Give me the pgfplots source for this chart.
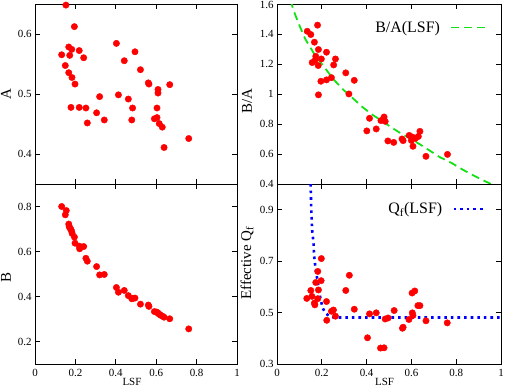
\documentclass[border=0pt]{standalone}
\usepackage{fontspec}
\setmainfont{Liberation Serif}
\usepackage{pgfplots}
\pgfplotsset{compat=1.18}

\definecolor{fitgreen}{RGB}{20,225,20}
\tikzset{greenfit/.style={draw=fitgreen, line width=1.8bp, dash pattern=on 8bp off 5bp}}

\pgfplotsset{
  panel/.style={
    scale only axis,
    xmin=0, xmax=1,
    xtick={0,0.2,0.4,0.6,0.8,1},
    tick align=inside,
    major tick length=5bp,
    axis line style={line width=0.9bp},
    every tick/.style={black, line width=0.9bp},
    /pgf/number format/assume math mode=true,
    tick label style={font=\fontsize{11}{13}\selectfont},
    label style={font=\fontsize{15}{17}\selectfont},
    xlabel style={at={(axis description cs:0.48,0)}, anchor=center, yshift=-17.5bp,
                  font=\fontsize{11}{13}\selectfont},
    x tick label style={yshift=-2bp},
    legend style={draw=none, fill=none, inner sep=0pt, legend cell align=right,
                  font=\fontsize{16}{18}\selectfont},
    legend plot pos=right,
  },
  dots/.style={only marks, mark=*, mark size=3.2bp, red, mark options={fill=red, draw=red}},
}

\begin{document}
\begin{tikzpicture}
\useasboundingbox (0,0) rectangle (506bp,388bp);

% top left: A
\begin{axis}[panel, at={(35bp,204bp)}, anchor=south west,
    width=202bp, height=179.5bp,
    ymin=0.35, ymax=0.65, ytick={0.4,0.5,0.6},
    xticklabels={}, ylabel={A},
    ylabel style={at={(axis description cs:-0.1436,0.5)}, anchor=center}]
\addplot[dots] coordinates {
(0.153,0.649)(0.195,0.613)(0.132,0.566)(0.167,0.579)(0.182,0.575)(0.172,0.565)
(0.219,0.573)(0.241,0.561)(0.150,0.548)(0.167,0.536)(0.183,0.528)(0.198,0.517)
(0.178,0.478)(0.219,0.478)(0.252,0.477)(0.259,0.452)(0.305,0.469)(0.320,0.496)
(0.343,0.457)(0.403,0.585)(0.413,0.499)(0.442,0.556)(0.462,0.492)(0.483,0.477)
(0.479,0.457)(0.495,0.571)(0.522,0.541)(0.561,0.519)(0.564,0.517)(0.609,0.508)
(0.609,0.502)(0.604,0.477)(0.591,0.459)(0.604,0.461)(0.615,0.451)(0.630,0.445)
(0.639,0.411)(0.667,0.516)(0.761,0.426)
};
\end{axis}

% bottom left: B
\begin{axis}[panel, at={(35bp,24bp)}, anchor=south west,
    width=202bp, height=180bp,
    ymin=0.1, ymax=0.9, ytick={0.2,0.4,0.6,0.8},
    xlabel={LSF}, ylabel={B},
    ylabel style={at={(axis description cs:-0.1436,0.48)}, anchor=center}]
\addplot[dots] coordinates {
(0.132,0.800)(0.150,0.763)(0.155,0.782)(0.167,0.722)(0.169,0.713)(0.172,0.705)
(0.178,0.698)(0.182,0.688)(0.184,0.680)(0.195,0.664)(0.198,0.637)(0.219,0.624)
(0.221,0.612)(0.241,0.622)(0.252,0.570)(0.259,0.557)(0.305,0.533)(0.320,0.496)
(0.343,0.498)(0.403,0.440)(0.413,0.419)(0.442,0.427)(0.462,0.404)(0.479,0.390)
(0.485,0.392)(0.495,0.393)(0.522,0.366)(0.561,0.362)(0.564,0.356)(0.591,0.333)
(0.602,0.331)(0.606,0.328)(0.611,0.325)(0.615,0.321)(0.620,0.318)(0.630,0.313)
(0.639,0.308)(0.667,0.301)(0.761,0.256)
};
\end{axis}

% top right: B/A
\begin{axis}[panel, at={(277bp,204bp)}, anchor=south west,
    width=224bp, height=179.5bp,
    ymin=0.4, ymax=1.6, ytick={0.4,0.6,0.8,1,1.2,1.4,1.6},
    xticklabels={}, ylabel={B/A},
    ylabel style={at={(axis description cs:-0.134,0.46)}, anchor=center},
    legend style={at={(0.9375,0.872)}, anchor=east},
    legend image code/.code={\path (0bp,0bp); \draw[greenfit] (8bp,0bp) -- (43bp,0bp);}]
\addplot[greenfit] coordinates {
(0.060,1.63)(0.074,1.56)(0.100,1.46)(0.126,1.37)(0.150,1.31)(0.170,1.26)
(0.207,1.19)(0.252,1.10)(0.296,1.03)(0.341,0.97)(0.385,0.91)(0.429,0.86)
(0.470,0.82)(0.504,0.785)(0.548,0.743)(0.600,0.700)(0.637,0.666)(0.680,0.625)
(0.726,0.580)(0.780,0.540)(0.830,0.495)(0.880,0.455)(0.920,0.425)(0.955,0.40)
};
\addlegendentry{B/A(LSF)}
\addplot[dots, forget plot] coordinates {
(0.135,1.421)(0.151,1.399)(0.181,1.462)(0.167,1.348)(0.173,1.254)(0.170,1.227)
(0.157,1.212)(0.185,1.299)(0.184,1.192)(0.198,1.236)(0.196,1.087)(0.185,0.996)
(0.221,1.281)(0.221,1.096)(0.243,1.111)(0.253,1.196)(0.261,1.236)(0.307,1.143)
(0.321,1.002)(0.345,1.093)(0.401,0.755)(0.413,0.839)(0.443,0.768)(0.464,0.824)
(0.478,0.848)(0.483,0.819)(0.495,0.688)(0.521,0.678)(0.558,0.701)(0.563,0.690)
(0.590,0.725)(0.604,0.714)(0.600,0.691)(0.607,0.652)(0.618,0.705)(0.631,0.718)
(0.638,0.752)(0.665,0.585)(0.761,0.598)
};
\end{axis}

% bottom right: effective Q_f
\begin{axis}[panel, at={(277bp,24bp)}, anchor=south west,
    width=224bp, height=180bp,
    ymin=0.3, ymax=1.0, ytick={0.3,0.5,0.7,0.9},
    xlabel={LSF}, ylabel={Effective Q\textsubscript{f}},
    ylabel style={at={(axis description cs:-0.134,0.56)}, anchor=center},
    legend style={at={(0.9375,0.861)}, anchor=east},
    legend image code/.code={\path (0bp,0bp); \draw[#1] (8bp,0bp) -- (40bp,0bp);}]
\addplot[blue, line width=2.6bp, dash pattern=on 2.6bp off 4bp] coordinates {
(0.150,1.00)(0.153,0.90)(0.157,0.82)(0.163,0.771)(0.166,0.719)(0.170,0.687)
(0.175,0.655)(0.185,0.603)(0.192,0.564)(0.203,0.519)(0.215,0.500)(0.234,0.485)
(0.252,0.481)(1.0,0.481)
};
\addlegendentry{Q\textsubscript{f}(LSF)}
\addplot[dots, forget plot] coordinates {
(0.198,0.710)(0.182,0.660)(0.197,0.624)(0.173,0.617)(0.151,0.586)(0.185,0.588)
(0.133,0.555)(0.156,0.563)(0.182,0.554)(0.167,0.537)(0.169,0.530)(0.221,0.543)
(0.243,0.505)(0.252,0.510)(0.261,0.486)(0.222,0.470)(0.307,0.586)(0.323,0.645)
(0.345,0.513)(0.413,0.495)(0.443,0.499)(0.404,0.402)(0.483,0.475)(0.496,0.479)
(0.462,0.362)(0.478,0.363)(0.523,0.508)(0.560,0.439)(0.563,0.443)(0.589,0.473)
(0.604,0.499)(0.607,0.489)(0.603,0.576)(0.615,0.584)(0.629,0.527)(0.638,0.527)
(0.665,0.468)(0.760,0.460)
};
\end{axis}
\end{tikzpicture}
\end{document}
